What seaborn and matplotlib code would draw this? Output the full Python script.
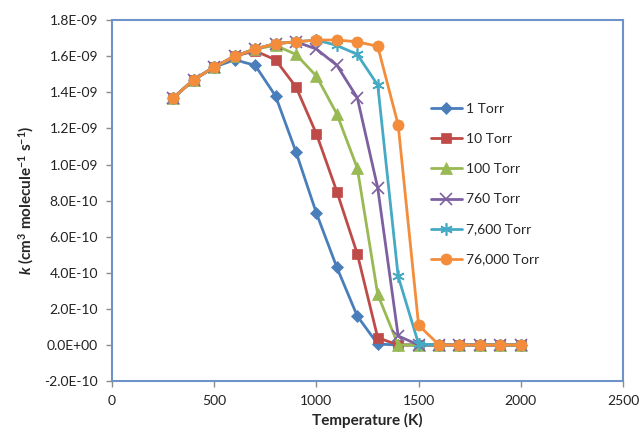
import numpy as np
import pandas as pd
import matplotlib
matplotlib.use("Agg")
import matplotlib.pyplot as plt
import seaborn as sns
from matplotlib.ticker import FuncFormatter

# ===============================
# DATA (k in units of 1E-09)
# ===============================
temperature = [300, 400, 500, 600, 700, 800, 900, 1000, 1100, 1200,
               1300, 1400, 1500, 1600, 1700, 1800, 1900, 2000]

k_1torr = [1.37, 1.47, 1.54, 1.58, 1.55, 1.38, 1.07, 0.73, 0.43, 0.16,
           0.005, 0.0, 0.0, 0.0, 0.0, 0.0, 0.0, 0.0]
k_10torr = [1.37, 1.47, 1.54, 1.60, 1.63, 1.58, 1.43, 1.17, 0.85, 0.505,
            0.04, 0.0, 0.0, 0.0, 0.0, 0.0, 0.0, 0.0]
k_100torr = [1.37, 1.47, 1.54, 1.60, 1.64, 1.66, 1.61, 1.49, 1.28, 0.98,
             0.28, 0.0, 0.0, 0.0, 0.0, 0.0, 0.0, 0.0]
k_760torr = [1.37, 1.47, 1.54, 1.60, 1.64, 1.67, 1.68, 1.64, 1.55, 1.37,
             0.87, 0.05, 0.0, 0.0, 0.0, 0.0, 0.0, 0.0]
k_7600torr = [1.37, 1.47, 1.54, 1.60, 1.64, 1.67, 1.68, 1.69, 1.66, 1.61,
              1.44, 0.38, 0.005, 0.0, 0.0, 0.0, 0.0, 0.0]
k_76000torr = [1.37, 1.47, 1.54, 1.60, 1.64, 1.67, 1.68, 1.69, 1.69, 1.68,
               1.655, 1.22, 0.11, 0.0, 0.0, 0.0, 0.0, 0.0]

series_names = ["1 Torr", "10 Torr", "100 Torr", "760 Torr", "7,600 Torr", "76,000 Torr"]
series_values = [k_1torr, k_10torr, k_100torr, k_760torr, k_7600torr, k_76000torr]

colors = ["#4A7EBB", "#BE4B48", "#98B954", "#7D60A0", "#46AAC5", "#F38D3C"]
markers = ["D", "s", "^", "x", (6, 2, 0), "o"]
msizes = [6.5, 7.5, 8, 8, 9, 8]

# ===============================
# STYLE
# ===============================
sns.set_style("white")
plt.rcParams['font.family'] = ['Lato', 'DejaVu Sans']
plt.rcParams['mathtext.fontset'] = 'custom'
plt.rcParams['mathtext.rm'] = 'Lato:bold'
plt.rcParams['mathtext.it'] = 'Lato:bold:italic'
plt.rcParams['mathtext.bf'] = 'Lato:bold'

fig = plt.figure(figsize=(6.42, 4.38), dpi=100)
ax = fig.add_axes([0.1745, 0.13, 0.7959, 0.824])

for name, vals, c, m, ms in zip(series_names, series_values, colors, markers, msizes):
    df = pd.DataFrame({"T": temperature, "k": np.array(vals) * 1e-9})
    sns.lineplot(data=df, x="T", y="k", ax=ax, color=c, marker=m,
                 markersize=ms, linewidth=2.0, label=name,
                 markeredgecolor=c, markeredgewidth=1.2 if m in ("x", (6, 2, 0)) else 0.5)

# ===============================
# AXES
# ===============================
ax.set_xlim(0, 2500)
ax.set_ylim(-2.0e-10, 1.8e-9)
ax.set_xticks(np.arange(0, 2501, 500))
ax.set_yticks(np.arange(-2.0e-10, 1.81e-9, 2.0e-10))
ax.yaxis.set_major_formatter(FuncFormatter(lambda v, p: f"{v:.1E}"))

for s in ax.spines.values():
    s.set_color("#6E93CA")
    s.set_linewidth(1.5)

ax.tick_params(axis="both", direction="out", length=4, width=1,
               color="#8C8C8C", labelsize=10, labelcolor="#222222", pad=6)
ax.tick_params(left=True, bottom=True)

ax.set_xlabel("Temperature (K)", fontsize=11, fontweight="bold", labelpad=4)
ax.set_ylabel(r"$\mathit{k}$ (cm$^{3}$ molecule$^{-1}$ s$^{-1}$)",
              fontsize=11, fontweight="bold", labelpad=6)

leg = ax.legend(loc="center left", bbox_to_anchor=(0.6, 0.545), frameon=False,
                fontsize=10, labelspacing=1.3, handlelength=2.2, handletextpad=0.3)

plt.savefig("out.png", dpi=100)
plt.close()
